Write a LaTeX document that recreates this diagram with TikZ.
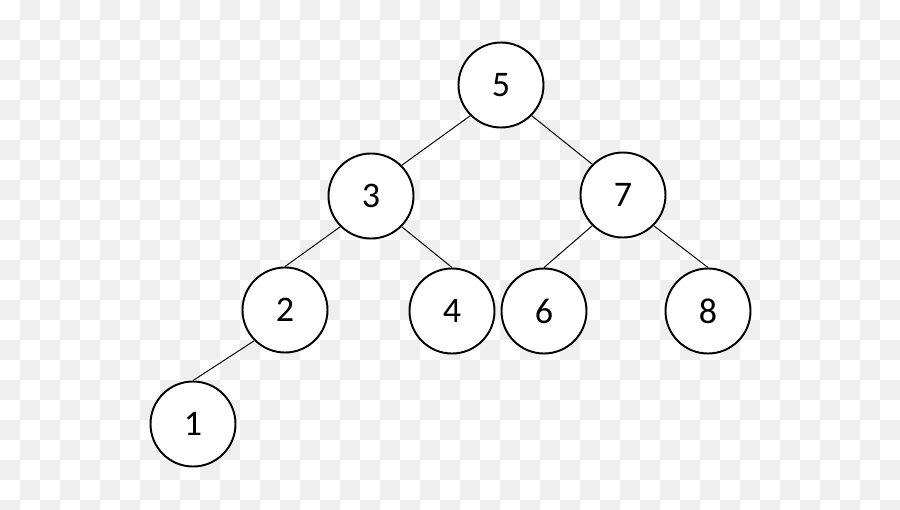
\documentclass[tikz,border=0pt]{standalone}
\usepackage{fontspec}
\setmainfont{Carlito}
\usepackage{xcolor}
\usetikzlibrary{calc}
\definecolor{checkgray}{HTML}{EFEFEF}
\tikzstyle{treenode}=[circle, draw=black, fill=white, line width=1.1pt, minimum size=1.70cm, inner sep=0pt, font=\fontsize{20.5}{24}\selectfont]
\tikzstyle{treeedge}=[draw=black, line width=0.55pt]

\begin{document}
\begin{tikzpicture}
 \useasboundingbox (0,0) rectangle (18,-10.18);
 % background squares
 \begin{scope}
   \clip (0,0) rectangle (18,-10.18);
   \foreach \i in {0,...,44} {
     \foreach \j in {0,...,25} {
       \pgfmathparse{int(mod(\i+\j,2))}
       \ifnum\pgfmathresult=1
         \fill[checkgray] (0.4*\i,-0.4*\j) rectangle ++(0.4,-0.4);
       \fi
     }
   }
 \end{scope}

 % edges first, circles on top
 \coordinate (c5) at (10.02,-1.70);
 \coordinate (c3) at (7.42,-3.92);
 \coordinate (c7) at (12.46,-3.90);
 \coordinate (c2) at (5.70,-6.20);
 \coordinate (c4) at (9.04,-6.22);
 \coordinate (c6) at (10.88,-6.22);
 \coordinate (c8) at (14.16,-6.22);
 \coordinate (c1) at (3.86,-8.48);

 \node[treenode] (n5) at (c5) {5};
 \node[treenode] (n3) at (c3) {3};
 \node[treenode] (n7) at (c7) {7};
 \node[treenode] (n2) at (c2) {2};
 \node[treenode] (n4) at (c4) {4};
 \node[treenode] (n6) at (c6) {6};
 \node[treenode] (n8) at (c8) {8};
 \node[treenode] (n1) at (c1) {1};

 \draw[treeedge] (n5.south west) -- (n3.north east);
 \draw[treeedge] (n5.south east) -- (n7.north west);
 \draw[treeedge] (n3.south west) -- (n2.north);
 \draw[treeedge] (n3.south east) -- (n4.north);
 \draw[treeedge] (n7.south west) -- (n6.north);
 \draw[treeedge] (n7.south east) -- (n8.north);
 \draw[treeedge] (n2.south west) -- (n1.north);
\end{tikzpicture}
\end{document}
